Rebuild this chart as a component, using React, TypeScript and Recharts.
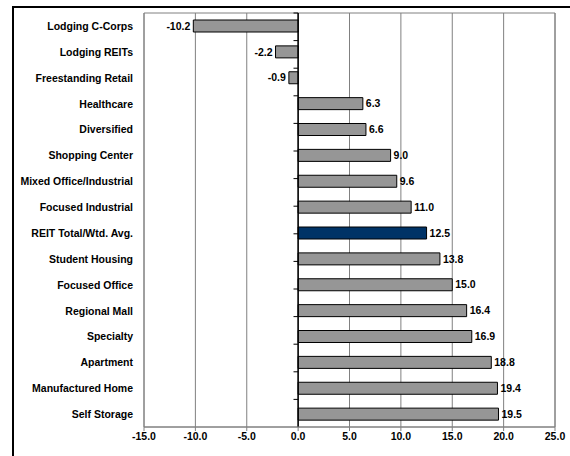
import React from 'react';
import { BarChart, Bar, XAxis, YAxis, CartesianGrid, ReferenceLine, ReferenceArea, LabelList, Cell, Customized } from 'recharts';

const categories = [
    'Lodging C-Corps', 'Lodging REITs', 'Freestanding Retail', 'Healthcare', 'Diversified',
    'Shopping Center', 'Mixed Office/Industrial', 'Focused Industrial', 'REIT Total/Wtd. Avg.',
    'Student Housing', 'Focused Office', 'Regional Mall', 'Specialty', 'Apartment',
    'Manufactured Home', 'Self Storage',
];
const returns = [-10.2, -2.2, -0.9, 6.3, 6.6, 9.0, 9.6, 11.0, 12.5, 13.8, 15.0, 16.4, 16.9, 18.8, 19.4, 19.5];
const highlight = 'REIT Total/Wtd. Avg.';
const xTicks = [-15, -10, -5, 0, 5, 10, 15, 20, 25];

const data = categories.map((name, i) => ({ name, value: returns[i] }));
const boundaries = categories.slice(1).map((_, i) => i + 1);

const FONT = '"Liberation Sans", Arial, sans-serif';

// plain text tick so long names stay on one line
const CategoryTick = (props: any) => {
    const { x, y, payload } = props;
    return (
        <text x={x} y={y} dy={4} textAnchor="end" fill="#000" fontSize={10.5} fontWeight="bold" fontFamily={FONT}>
            {payload.value}
        </text>
    );
};

// outer frame of the picture, open to the right and bottom
const Frame = () => <path d="M 13 470 L 13 7 L 600 7" fill="none" stroke="#000" strokeWidth={2} />;

const App: React.FC = () => {
    return (
        <div style={{ position: 'absolute', left: 0, top: 0, width: 570, height: 456, overflow: 'hidden', background: '#fff' }}>
            <BarChart
                width={570}
                height={456}
                data={data}
                layout="vertical"
                margin={{ top: 13, right: 15, left: 14, bottom: 9 }}
                barSize={12}
                style={{ fontFamily: FONT }}
            >
                <Customized component={Frame} />
                <CartesianGrid horizontal={false} stroke="#808080" strokeWidth={1} />
                <XAxis
                    type="number"
                    domain={[-15, 25]}
                    ticks={xTicks}
                    tickFormatter={(v: number) => v.toFixed(1)}
                    tick={{ fill: '#000', fontSize: 10.5, fontWeight: 'bold' }}
                    stroke="#808080"
                    tickSize={4}
                    height={20}
                    interval={0}
                />
                <YAxis
                    type="category"
                    dataKey="name"
                    width={130}
                    axisLine={false}
                    tickLine={false}
                    tickSize={0}
                    tickMargin={11}
                    interval={0}
                    tick={<CategoryTick />}
                />
                <YAxis yAxisId="edges" type="number" domain={[0, categories.length]} reversed hide />
                <ReferenceArea x1={-15} x2={25} fill="none" stroke="#808080" strokeWidth={1} ifOverflow="visible" />
                {boundaries.map((b) => (
                    <ReferenceLine
                        key={b}
                        yAxisId="edges"
                        segment={[{ x: -0.45, y: b }, { x: 0, y: b }]}
                        stroke="#000"
                        strokeWidth={1}
                    />
                ))}
                <Bar dataKey="value" fill="#969696" stroke="#000" strokeWidth={1} isAnimationActive={false}>
                    {data.map((d) => (
                        <Cell key={d.name} fill={d.name === highlight ? '#003366' : '#969696'} />
                    ))}
                    <LabelList
                        dataKey="value"
                        position="right"
                        offset={3}
                        formatter={(v: number) => v.toFixed(1)}
                        style={{ fill: '#000', fontSize: 10.5, fontWeight: 'bold' }}
                    />
                </Bar>
                <ReferenceLine x={0} stroke="#000" strokeWidth={1.5} />
            </BarChart>
        </div>
    );
};

export default App;
